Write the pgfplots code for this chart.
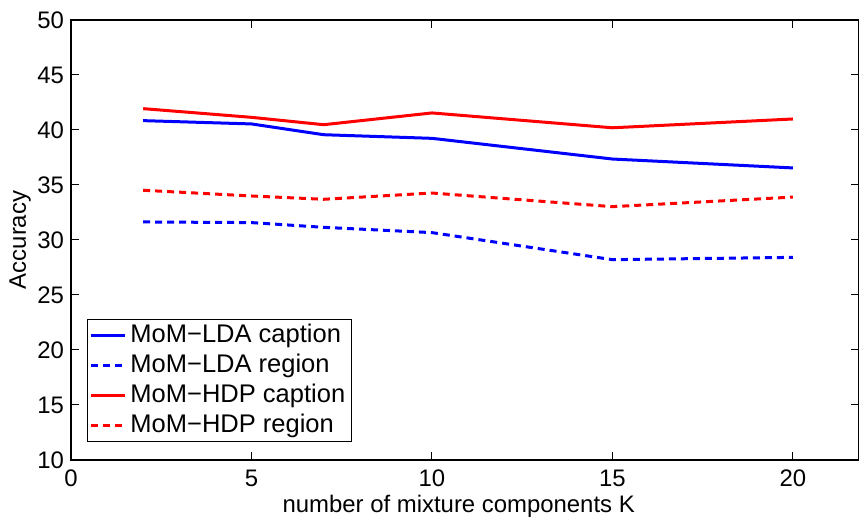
\documentclass[border=0pt]{standalone}
\usepackage{fontspec}
\setmainfont{Liberation Sans}
\usepackage{pgfplots}
\pgfplotsset{compat=1.18}
\begin{document}
\begin{tikzpicture}
\begin{axis}[
  name=ax,
  scale only axis,
  width=394bp, height=220bp,
  xmin=0, xmax=21.83, ymin=10, ymax=50,
  xtick={0,5,10,15,20}, ytick={10,15,...,50},
  tick align=inside, major tick length=4bp,
  tick style={black, line width=0.5bp},
  axis line style={line width=0.6bp},
  /pgf/number format/assume math mode=true,
  tick label style={font=\fontsize{12}{14}\selectfont},
  label style={font=\fontsize{12}{14}\selectfont},
  xlabel={number of mixture components K},
  ylabel={Accuracy},
  xlabel style={at={(axis description cs:0.492,0)}, anchor=north, yshift=-17.2bp, inner sep=0pt},
  ylabel style={at={(axis description cs:-0.0647,0.5)}, anchor=center, inner sep=0pt},
  xticklabel style={inner ysep=0pt, anchor=north, yshift=-4.8bp},
  legend cell align=left,
  legend style={at={(0.0203,0.041)}, anchor=south west,
    font=\fontsize{12.8}{14}\selectfont, draw=black, line width=0.5bp,
    inner xsep=1bp, inner ysep=0.5bp, row sep=0pt,
    nodes={inner xsep=2bp, inner ysep=1.5bp, text height=9.5bp, text depth=2.5bp}},
  legend image code/.code={\draw[#1] (0bp,0bp) -- (17bp,0bp);},
]
\addplot[blue, line width=1.5bp] coordinates {(2,40.85) (5,40.55) (7,39.57) (10,39.24) (15,37.36) (20,36.55)};
\addlegendentry{MoM−LDA caption}
\addplot[blue, line width=1.5bp, dash pattern=on 3.5bp off 2.5bp] coordinates {(2,31.64) (5,31.58) (7,31.15) (10,30.67) (15,28.21) (20,28.42)};
\addlegendentry{MoM−LDA region}
\addplot[red, line width=1.5bp] coordinates {(2,41.94) (5,41.15) (7,40.48) (10,41.55) (15,40.2) (20,41.0)};
\addlegendentry{MoM−HDP caption}
\addplot[red, line width=1.5bp, dash pattern=on 3.5bp off 2.5bp] coordinates {(2,34.52) (5,34.0) (7,33.7) (10,34.27) (15,33.03) (20,33.9)};
\addlegendentry{MoM−HDP region}
\end{axis}
\pgfresetboundingbox
\useasboundingbox ([shift={(-35.5bp,-28.6bp)}]ax.south west) rectangle ([shift={(0bp,10bp)}]ax.north east);
\end{tikzpicture}
\end{document}
